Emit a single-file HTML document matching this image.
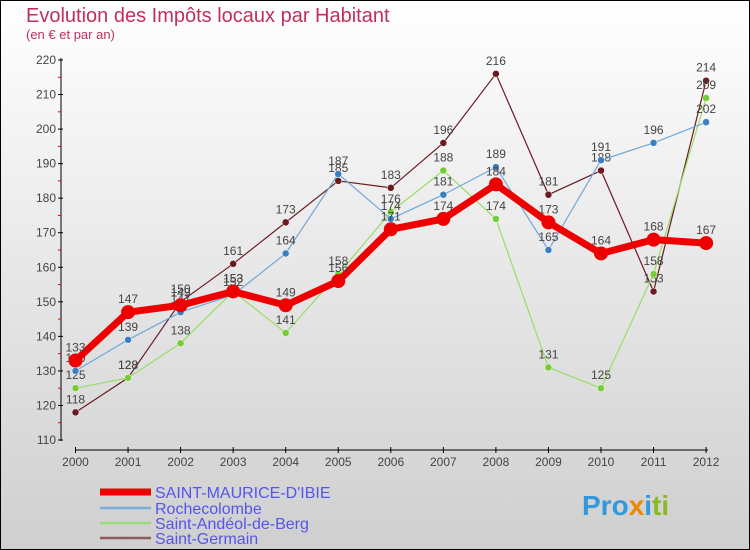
<!DOCTYPE html>
<html><head><meta charset="utf-8"><style>
body{margin:0}
#c{width:750px;height:550px;position:relative;overflow:hidden;font-family:"Liberation Sans",sans-serif}
</style></head><body>
<div id="c">
<svg id="s" width="750" height="550" xmlns="http://www.w3.org/2000/svg">
<defs><linearGradient id="bg" x1="0" y1="0" x2="0" y2="1"><stop offset="0" stop-color="#ffffff"/><stop offset="1" stop-color="#cfcfcf"/></linearGradient></defs>
<rect x="0.5" y="0.5" width="749" height="549" fill="url(#bg)" stroke="#000"/>
<text x="26" y="22" font-size="20" fill="#c0305a">Evolution des Impôts locaux par Habitant</text>
<text x="26" y="39" font-size="13" fill="#c0305a">(en € et par an)</text>
<g id="axes"></g><g id="series"></g><g id="legend"></g>
<text x="582" y="515" font-size="28" font-weight="bold" fill="#3399dd">Pro<tspan fill="#ee8800">x</tspan>i<tspan fill="#88bb22">ti</tspan></text>
</svg></div>
<script>
const years=["2000","2001","2002","2003","2004","2005","2006","2007","2008","2009","2010","2011","2012"];
const yTicks=[110,120,130,140,150,160,170,180,190,200,210,220];
const seriesNames=["SAINT-MAURICE-D'IBIE","Rochecolombe","Saint-Andéol-de-Berg","Saint-Germain"];
const stMaurice=[133,147,149,153,149,156,171,174,184,173,164,168,167];
const rochecolombe=[130,139,147,152,164,187,174,181,189,165,191,196,202];
const stAndeol=[125,128,138,153,141,158,176,188,174,131,125,158,209];
const stGermain=[118,128,150,161,173,185,183,196,216,181,188,153,214];
const NS="http://www.w3.org/2000/svg";
const X=i=>75.5+i*52.55, Y=v=>440-(v-110)*3.4545;
function mk(t,a,p){const e=document.createElementNS(NS,t);for(const k in a)e.setAttribute(k,a[k]);p.appendChild(e);return e;}
const ax=document.getElementById('axes');
let e=mk('line',{x1:61,y1:58,x2:61,y2:441,stroke:'#000'},ax);

e=mk('line',{x1:75,y1:450,x2:708,y2:450,stroke:'#000'},ax);

yTicks.forEach((v,i)=>{mk('line',{x1:58,y1:Y(v),x2:63,y2:Y(v),stroke:'#000'},ax);
 if(i<yTicks.length-1)mk('line',{x1:58,y1:Y(v+5),x2:61,y2:Y(v+5),stroke:'#e00'},ax);
 const t=mk('text',{x:56,y:Y(v)+4,'font-size':12,fill:'#444','text-anchor':'end'},ax);t.textContent=v;
 });
years.forEach((y,i)=>{mk('line',{x1:X(i),y1:447,x2:X(i),y2:453,stroke:'#000'},ax);
 const t=mk('text',{x:X(i),y:466,'font-size':12,fill:'#444','text-anchor':'middle'},ax);t.textContent=y;
 });
const sg=document.getElementById('series');
const defs=[[stGermain,'#6b1a22','#6b1a22',1.2,3.5,'saint-germain'],[stAndeol,'#99dd66','#77cc33',1.2,3.5,'saint-andeol'],[rochecolombe,'#6fa8d8','#3a80c0',1.2,3.5,'rochecolombe'],[stMaurice,'#ee0000','#ee0000',7,7,'saint-maurice']];
defs.forEach(([d,c,dc,w,r,n])=>{
 const g=mk('g',{},sg);
 const p=mk('polyline',{points:d.map((v,i)=>X(i)+','+Y(v)).join(' '),fill:'none',stroke:c,'stroke-width':w,'stroke-linejoin':'round'},g);
 
 d.forEach((v,i)=>{const m=mk('circle',{cx:X(i),cy:Y(v),r:r,fill:dc,stroke:n==='saint-maurice'?'none':'#fff','stroke-width':0.5},g);
  
  const t=mk('text',{x:X(i),y:Y(v)-9,'font-size':12,fill:'#444','text-anchor':'middle'},g);t.textContent=v;
  });
});
const lg=document.getElementById('legend');
const lc=['#ee0000','#7aaed8','#99dd77','#8b5a5a'],lw=[7,2.5,2.5,2.5],ly=[492,508,523,538];
seriesNames.forEach((n,i)=>{mk('line',{x1:100,y1:ly[i],x2:151,y2:ly[i],stroke:lc[i],'stroke-width':lw[i]},lg);
 const t=mk('text',{x:155,y:ly[i]+6,'font-size':16,fill:'#5555ee'},lg);t.textContent=n;
 });
</script>
</body></html>
